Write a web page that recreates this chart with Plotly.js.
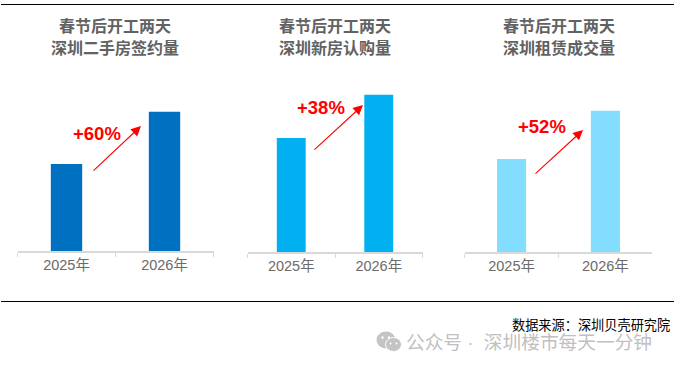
<!DOCTYPE html>
<html><head><meta charset="utf-8">
<script src="https://cdn.plot.ly/plotly-3.0.1.min.js"></script>
<style>html,body{margin:0;padding:0;background:#fff}#c{width:674px;height:368px}</style>
</head><body><div id="c"></div>
<script>
var W = 674, H = 368;
var years = ['2025年', '2026年'];
var signing = [100, 160];
var subscription = [100, 138];
var rental = [100, 152];
var growthLabels = ['+60%', '+38%', '+52%'];
var titleTop = '春节后开工两天';
var titleBottoms = ['深圳二手房签约量', '深圳新房认购量', '深圳租赁成交量'];
var colors = ['#0070C0', '#00B0F0', '#83DDFF'];
var source = '数据来源：深圳贝壳研究院';
var watermark = '公众号\u00A0·\u00A0\u00A0深圳楼市每天一分钟';

var CJK = '"Liberation Sans","Noto Sans CJK SC",sans-serif';
function px(x){return x / W;}
function py(y){return 1 - y / H;}

var panels = [
  {vals: signing, x0: 17.5, x1: 213.5, base: 251, unit: 0.87, gap: 0.68, titleX: 115, label: [96.5, 134], tail: [92, 172], head: [141, 126]},
  {vals: subscription, x0: 247.5, x1: 422.5, base: 252, unit: 1.14, gap: 0.67, titleX: 335, label: [321, 108], tail: [313, 151], head: [363, 105]},
  {vals: rental, x0: 464.7, x1: 652.3, base: 252, unit: 0.93, gap: 0.69, titleX: 558.7, label: [542, 127], tail: [534, 175], head: [583, 130]}
];

var traces = [], annotations = [], layout = {
  width: W, height: H, margin: {l: 0, r: 0, t: 0, b: 0},
  paper_bgcolor: '#fff', plot_bgcolor: 'rgba(0,0,0,0)', showlegend: false
};
var plotTop = 60;
panels.forEach(function(p, i){
  var n = i === 0 ? '' : String(i + 1);
  traces.push({type: 'bar', x: years, y: p.vals, xaxis: 'x' + n, yaxis: 'y' + n,
    marker: {color: colors[i]}, width: 1 - p.gap, hoverinfo: 'skip'});
  layout['xaxis' + n] = {domain: [px(p.x0), px(p.x1)], anchor: 'y' + n, type: 'category',
    tickson: 'boundaries', ticks: 'outside', ticklen: 4, tickwidth: 1, tickcolor: '#d9d9d9',
    showline: true, linecolor: '#d9d9d9', linewidth: 1.5, showgrid: false, zeroline: false,
    tickfont: {family: CJK, size: 14.5, color: '#6b6b6b'}, range: [-0.5, 1.5]};
  layout['yaxis' + n] = {domain: [py(p.base), py(plotTop)], anchor: 'x' + n, visible: false,
    range: [0, (p.base - plotTop) / p.unit], fixedrange: true};
  [[titleTop, 25.5], [titleBottoms[i], 48]].forEach(function(t){
    annotations.push({xref: 'paper', yref: 'paper', x: px(p.titleX), y: py(t[1]), text: '<b>' + t[0] + '</b>',
      showarrow: false, xanchor: 'center', yanchor: 'middle',
      font: {family: CJK, size: 16, color: '#626262'}});
  });
  annotations.push({xref: 'paper', yref: 'paper', x: px(p.label[0]), y: py(p.label[1]), text: '<b>' + growthLabels[i] + '</b>',
    showarrow: false, xanchor: 'center', yanchor: 'middle',
    font: {family: '"Liberation Sans",sans-serif', size: 18.5, color: '#ff0000'}});
  annotations.push({xref: 'paper', yref: 'paper', x: px(p.head[0]), y: py(p.head[1]), text: '',
    showarrow: true, arrowhead: 2, arrowsize: 1.8, arrowwidth: 1.1, arrowcolor: '#ff0000', standoff: 0,
    axref: 'pixel', ayref: 'pixel', ax: p.tail[0] - p.head[0], ay: p.tail[1] - p.head[1]});
});
annotations.push({xref: 'paper', yref: 'paper', x: px(672), y: py(325), text: source, showarrow: false,
  xanchor: 'right', yanchor: 'middle', font: {family: CJK, size: 13.2, color: '#000'}});
annotations.push({xref: 'paper', yref: 'paper', x: px(654), y: py(342), text: watermark, showarrow: false,
  xanchor: 'right', yanchor: 'middle', font: {family: CJK, size: 18.7, color: '#c0c0c0'}});
layout.annotations = annotations;

function rule(y){return {type: 'line', xref: 'paper', yref: 'paper', x0: px(1), x1: 1, y0: py(y), y1: py(y), line: {color: '#000', width: 1}};}
function bubble(cx, cy, rx, ry, c, lw){return {type: 'circle', xref: 'paper', yref: 'paper', x0: px(cx - rx), x1: px(cx + rx), y0: py(cy + ry), y1: py(cy - ry), fillcolor: c, line: {width: lw, color: '#fff'}};}
layout.shapes = [rule(4.5), rule(301.5),
  bubble(386, 340, 9.5, 8.5, '#c4c4c4', 0),
  bubble(393.5, 344.5, 8, 7, '#c4c4c4', 1),
  bubble(382.5, 337.5, 1.2, 1.2, '#fff', 0),
  bubble(389, 337.5, 1.2, 1.2, '#fff', 0),
  bubble(390.5, 343.5, 1, 1, '#fff', 0),
  bubble(396.5, 343.5, 1, 1, '#fff', 0)];

Plotly.newPlot('c', traces, layout, {displayModeBar: false, staticPlot: true});
</script></body></html>
